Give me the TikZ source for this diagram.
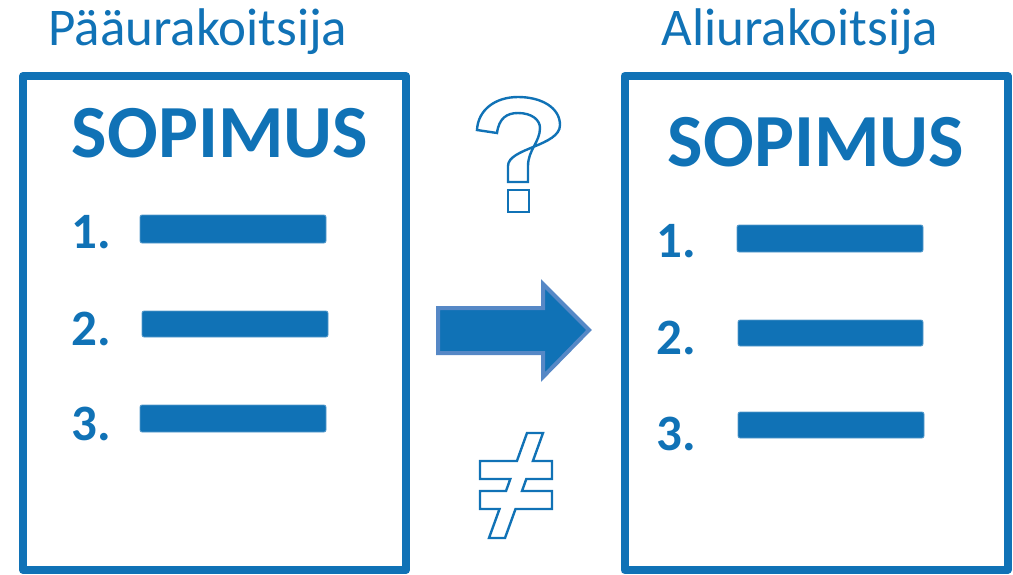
\documentclass[tikz,border=0pt]{standalone}
\usepackage{fontspec}
\setmainfont{Carlito}
\usepackage{tikz}

\definecolor{docblue}{RGB}{16,114,182}
\definecolor{arrowrim}{RGB}{86,136,198}

\tikzset{
  docbox/.style={draw=docblue, line width=8pt, line join=round},
  party/.style={text=docblue, font=\fontsize{53}{55}\selectfont, inner sep=0pt, anchor=base},
  heading/.style={text=docblue, font=\bfseries\fontsize{75}{78}\selectfont, inner sep=0pt, anchor=base},
  itemno/.style={text=docblue, font=\bfseries\fontsize{51}{53}\selectfont, inner sep=0pt, anchor=base west},
  itembar/.style={fill=docblue, draw=docblue!70!white, line width=0.8pt, rounded corners=2pt},
  glyph/.style={draw=docblue, line width=2.4pt, fill=white, line join=miter}
}

\begin{document}
\begin{tikzpicture}[x=1pt, y=-1pt]
  \useasboundingbox (0,0) rectangle (1013,574);

  % left contract
  \node[party] (main) at (198,45) {Pääurakoitsija};
  \draw[docbox] (23,76) rectangle (406,570);
  \node[heading] (mainsop) at (220,157) {SOPIMUS};
  \node[itemno] (m1) at (71,248) {1.};
  \node[itemno] (m2) at (71,345) {2.};
  \node[itemno] (m3) at (71,440) {3.};
  \draw[itembar] (140,215) rectangle (326,243);
  \draw[itembar] (142,311) rectangle (328,337);
  \draw[itembar] (140,405) rectangle (326,432);

  % right contract
  \node[party] (sub) at (800,45) {Aliurakoitsija};
  \draw[docbox] (624.5,76) rectangle (1007.5,570);
  \node[heading] (subsop) at (816,166) {SOPIMUS};
  \node[itemno] (s1) at (656,257) {1.};
  \node[itemno] (s2) at (656,354) {2.};
  \node[itemno] (s3) at (656,450) {3.};
  \draw[itembar] (737,225) rectangle (923,252);
  \draw[itembar] (738,320) rectangle (923,346);
  \draw[itembar] (738,412) rectangle (924,438);

  % question mark
  \draw[glyph] (477,130) -- (497,133)
    .. controls (499,118) and (507,113) .. (518,113)
    .. controls (532,113) and (540,120) .. (540,128)
    .. controls (540,142) and (528,150) .. (528,166)
    -- (528,182) -- (508,182) -- (508,166)
    .. controls (508,148) and (560,146) .. (560,125)
    .. controls (560,108) and (542,97) .. (518,97)
    .. controls (495,97) and (478,110) .. (477,130) -- cycle;
  \draw[glyph] (508,190) rectangle (529,212);

  % arrow
  \draw[fill=docblue, draw=arrowrim, line width=4pt, line join=miter]
    (438,308) -- (543,308) -- (543,284) -- (589,330) -- (543,377)
    -- (543,353) -- (438,353) -- cycle;

  % not equal
  \draw[glyph] (527,433) -- (543,433) -- (532.9,461) -- (552,461) -- (552,479)
    -- (526.3,479) -- (522,491) -- (552,491) -- (552,509) -- (515.5,509)
    -- (505,538) -- (489,538) -- (499.5,509) -- (480,509) -- (480,491)
    -- (506,491) -- (510.3,479) -- (480,479) -- (480,461) -- (516.9,461) -- cycle;
\end{tikzpicture}
\end{document}
